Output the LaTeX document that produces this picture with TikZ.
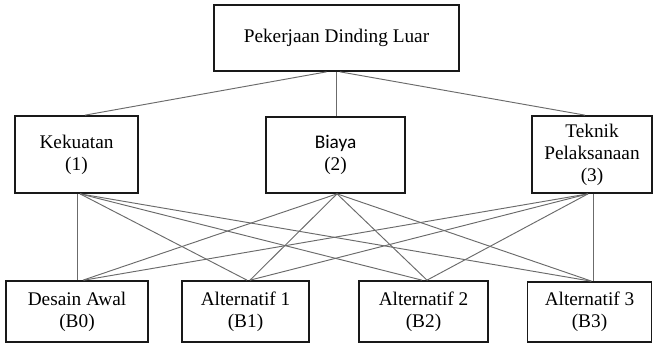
\documentclass[tikz,border=0pt]{standalone}
\usepackage{fontspec}
\setmainfont{Liberation Serif}
\newfontfamily\biayafont{Carlito}
\begin{document}
\begin{tikzpicture}[x=1pt,y=-1pt,
  box/.style={draw=black!90,line width=1.7pt,fill=white,inner sep=0pt,align=center,
    font=\fontsize{19.3}{22}\selectfont},
  link/.style={draw=black!58,line width=0.95pt}]
\useasboundingbox (0,0) rectangle (655,343);
\node[box,minimum width=245pt,minimum height=66pt] (top) at (336.5,38) {Pekerjaan Dinding Luar};
\node[box,minimum width=123pt,minimum height=77pt] (K) at (76.5,154.5) {Kekuatan\\(1)};
\node[box,minimum width=139pt,minimum height=76pt] (B) at (335.5,155) {{\biayafont Biaya}\\(2)};
\node[box,minimum width=120pt,minimum height=77pt] (T) at (592,154.5) {Teknik\\Pelaksanaan\\(3)};
\node[box,minimum width=142pt,minimum height=61pt] (B0) at (77,311.5) {Desain Awal\\(B0)};
\node[box,minimum width=127pt,minimum height=61pt] (B1) at (245.5,311.5) {Alternatif 1\\(B1)};
\node[box,minimum width=129pt,minimum height=61pt] (B2) at (423.5,311.5) {Alternatif 2\\(B2)};
\node[box,minimum width=124pt,minimum height=60pt] (B3) at (589.5,312) {Alternatif 3\\(B3)};
% top level
\draw[link] ([xshift=-10pt]top.south) -- ([xshift=8.5pt]K.north);
\draw[link] ([xshift=-0.5pt]top.south) -- ([xshift=0.5pt]B.north);
\draw[link] ([xshift=3.5pt]top.south) -- ([xshift=-7pt]T.north);
% Kekuatan
\draw[link] ([xshift=0.5pt]K.south) -- (B0.north);
\draw[link] ([xshift=3.5pt]K.south) -- ([xshift=1.5pt]B1.north);
\draw[link] ([xshift=3.5pt]K.south) -- ([xshift=-1.5pt]B2.north);
\draw[link] ([xshift=3.5pt]K.south) -- ([xshift=1.5pt]B3.north);
% Biaya
\draw[link] ([xshift=1.5pt]B.south) -- ([xshift=6pt]B0.north);
\draw[link] ([xshift=1.5pt]B.south) -- ([xshift=4.5pt]B1.north);
\draw[link] ([xshift=1.5pt]B.south) -- ([xshift=3.5pt]B2.north);
\draw[link] ([xshift=1.5pt]B.south) -- ([xshift=2pt]B3.north);
% Teknik
\draw[link] ([xshift=-4pt]T.south) -- ([xshift=7pt]B0.north);
\draw[link] ([xshift=-4pt]T.south) -- ([xshift=4.5pt]B1.north);
\draw[link] ([xshift=-4pt]T.south) -- ([xshift=3.5pt]B2.north);
\draw[link] ([xshift=1pt]T.south) -- ([xshift=3.5pt]B3.north);
\end{tikzpicture}
\end{document}
